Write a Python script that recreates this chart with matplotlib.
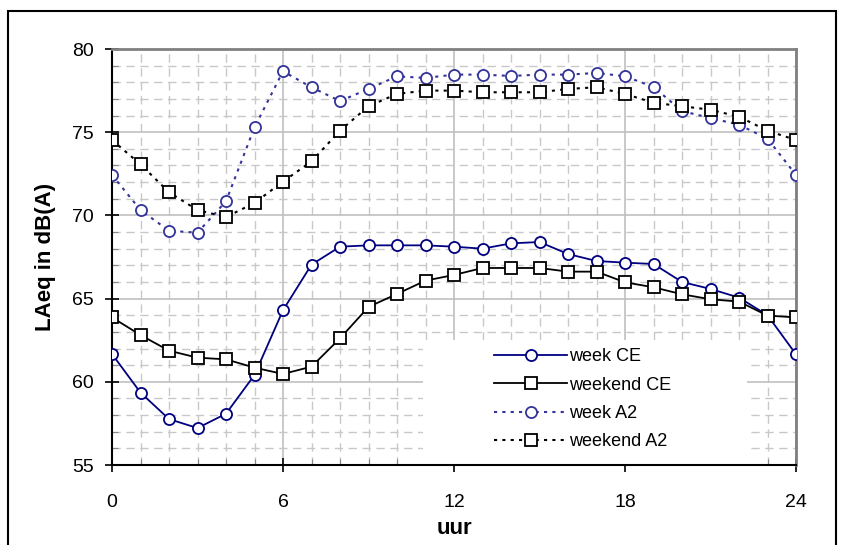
import matplotlib
matplotlib.use("Agg")
import matplotlib.pyplot as plt
from matplotlib.patches import Rectangle
from matplotlib.ticker import MultipleLocator

plt.rcParams['font.family'] = ['Liberation Sans', 'DejaVu Sans']

hours = list(range(25))
week_ce = [61.67, 59.35, 57.76, 57.22, 58.08, 60.41, 64.3, 67.04, 68.12, 68.2,
           68.2, 68.2, 68.12, 68.0, 68.32, 68.4, 67.68, 67.26, 67.16, 67.08,
           66.0, 65.58, 65.06, 64.0, 61.65]
weekend_ce = [63.87, 62.81, 61.87, 61.45, 61.35, 60.85, 60.47, 60.91, 62.61, 64.5,
              65.28, 66.08, 66.42, 66.84, 66.84, 66.84, 66.62, 66.62, 65.98, 65.68,
              65.26, 64.96, 64.82, 63.98, 63.87]
week_a2 = [72.43, 70.32, 69.08, 68.96, 70.85, 75.29, 78.66, 77.70, 76.87, 77.6,
           78.36, 78.26, 78.46, 78.46, 78.38, 78.46, 78.46, 78.56, 78.36, 77.72,
           76.27, 75.85, 75.45, 74.61, 72.43]
weekend_a2 = [74.53, 73.07, 71.39, 70.32, 69.9, 70.75, 72.03, 73.25, 75.09, 76.56,
              77.3, 77.5, 77.5, 77.4, 77.4, 77.4, 77.6, 77.7, 77.3, 76.77,
              76.56, 76.35, 75.93, 75.09, 74.53]
labels = ["week CE", "weekend CE", "week A2", "weekend A2"]
xticks = [0, 6, 12, 18, 24]
yticks = [55, 60, 65, 70, 75, 80]

W, H = 842, 545
fig = plt.figure(figsize=(W / 100, H / 100), dpi=100)
ax = fig.add_axes([112 / W, 1 - 465 / H, (796 - 112) / W, (465 - 49) / H])

# outer frame
fig.patches.append(Rectangle((8 / W, -0.05), (836 - 8) / W, 1 - 11 / H + 0.05,
                             transform=fig.transFigure, fill=False,
                             edgecolor='black', linewidth=1.5))

navy = '#000080'
blue2 = '#333399'
ms_c = 8
ms_s = 9
ax.plot(hours, week_ce, color=navy, lw=1.3, marker='o', ms=ms_c,
        mfc='white', mec=navy, mew=1.3, label=labels[0], zorder=5)
ax.plot(hours, weekend_ce, color='black', lw=1.3, marker='s', ms=ms_s,
        mfc='white', mec='black', mew=1.3, label=labels[1], zorder=5)
ax.plot(hours, week_a2, color=blue2, lw=1.5, ls=(0, (1.5, 2.5)), marker='o', ms=ms_c,
        mfc='white', mec=blue2, mew=1.3, label=labels[2], zorder=5)
ax.plot(hours, weekend_a2, color='black', lw=1.5, ls=(0, (1.5, 2.5)), marker='s', ms=ms_s,
        mfc='white', mec='black', mew=1.3, label=labels[3], zorder=5)

ax.set_xlim(0, 24)
ax.set_ylim(55, 80)
ax.set_xticks(xticks)
ax.set_yticks(yticks)
ax.xaxis.set_minor_locator(MultipleLocator(1))
ax.yaxis.set_minor_locator(MultipleLocator(1))
ax.set_axisbelow(True)
ax.grid(which='major', color='#c0c0c0', lw=1.2, ls='-')
ax.grid(which='minor', color='#c8c8c8', lw=1.0, ls=(0, (6, 4)))

ax.tick_params(which='major', direction='inout', length=10, width=1.2, labelsize=14,
               colors='black')
ax.tick_params(axis='x', which='major', pad=16)
ax.tick_params(axis='y', which='major', pad=8)
ax.tick_params(which='minor', direction='in', length=4, width=0.8, color='#888888')

for s in ['left', 'bottom']:
    ax.spines[s].set_color('black')
    ax.spines[s].set_linewidth(1.5)
for s in ['top', 'right']:
    ax.spines[s].set_color('#808080')
    ax.spines[s].set_linewidth(2)

ax.set_ylabel('LAeq in dB(A)', fontsize=16, fontweight='bold', labelpad=12)
ax.set_xlabel('uur', fontsize=16, fontweight='bold', labelpad=5)

# white legend background
ax.add_patch(Rectangle(((423 - 112) / 684, 0.0), (747 - 423) / 684, (465 - 340) / 416,
                       transform=ax.transAxes, facecolor='white', edgecolor='none',
                       zorder=1))
leg = ax.legend(loc='upper left', bbox_to_anchor=((480 - 112) / 684, (465 - 334) / 416),
                frameon=False, fontsize=13, handlelength=4.0, handletextpad=0.15,
                labelspacing=0.62, borderpad=0.3)
leg.set_zorder(6)

fig.savefig('out.png', dpi=100)
